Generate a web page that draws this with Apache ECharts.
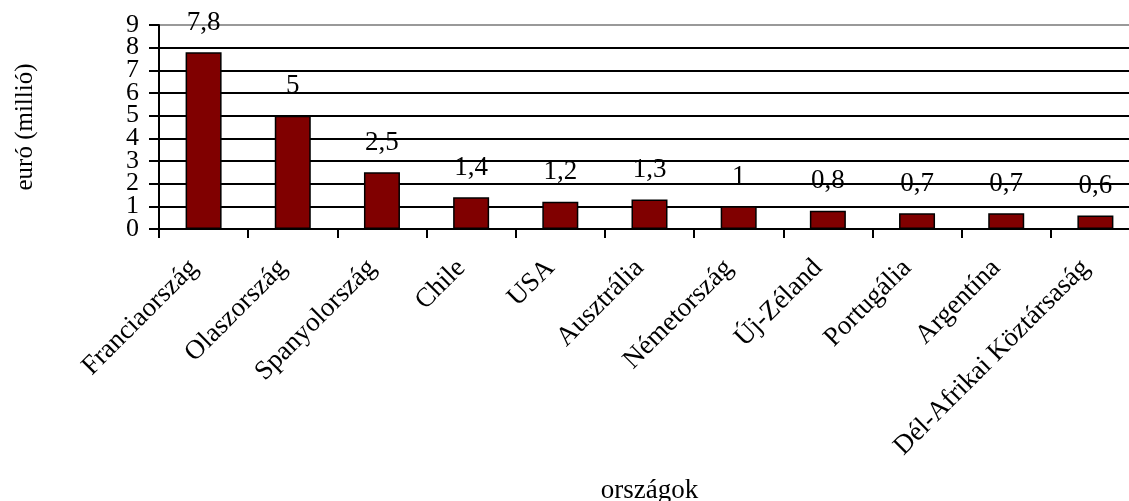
<!DOCTYPE html>
<html><head><meta charset="utf-8">
<script src="https://cdn.jsdelivr.net/npm/echarts@6/dist/echarts.min.js"></script>
<style>html,body{margin:0;padding:0;background:#fff}#c{width:1129px;height:501px}</style>
</head><body><div id="c"></div>
<script>
const categories = ['Franciaország','Olaszország','Spanyolország','Chile','USA','Ausztrália','Németország','Új-Zéland','Portugália','Argentína','Dél-Afrikai Köztársaság'];
const values = [7.8, 5, 2.5, 1.4, 1.2, 1.3, 1, 0.8, 0.7, 0.7, 0.6];
const labels = ['7,8','5','2,5','1,4','1,2','1,3','1','0,8','0,7','0,7','0,6'];
const yTicks = [0,1,2,3,4,5,6,7,8,9];
const FONT = "'Liberation Serif','Times New Roman',serif";
const yLabelStyle = {margin:20, fontFamily:FONT, fontSize:26, color:'#000', showMinLabel:true, showMaxLabel:true};
const chart = echarts.init(document.getElementById('c'), null, {renderer:'canvas'});
chart.setOption({
  animation:false,
  textStyle:{fontFamily:FONT},
  grid:{left:159, top:25, width:981, height:204, containLabel:false, outerBoundsMode:'none'},
  xAxis:{type:'category', data:categories,
    name:'országok', nameLocation:'middle', nameGap:248,
    nameTextStyle:{fontFamily:FONT, fontSize:27, color:'#000'},
    axisLine:{lineStyle:{color:'#000', width:2}},
    axisTick:{show:true, length:9, lineStyle:{color:'#000', width:2}},
    axisLabel:{rotate:45, interval:0, margin:25, padding:[0,14,0,0], fontFamily:FONT, fontSize:27, color:'#000'}
  },
  yAxis:[{type:'value', min:0, max:9, interval:1,
    name:'euró (millió)', nameLocation:'middle', nameGap:121, nameRotate:90,
    nameTextStyle:{fontFamily:FONT, fontSize:25, color:'#000'},
    axisLine:{show:true, lineStyle:{color:'#000', width:2}},
    axisTick:{show:true, length:10, lineStyle:{color:'#000', width:2}},
    axisLabel:Object.assign({}, yLabelStyle, {formatter:v=>(yTicks.includes(v)&&v%2===0)?String(v):''}),
    splitLine:{show:true, lineStyle:{color:['#000','#000','#000','#000','#000','#000','#000','#000','#000','#999'], width:2}}
  },{type:'value', min:0, max:9, interval:1, position:'left', offset:0,
    axisLine:{show:false}, axisTick:{show:false}, splitLine:{show:false},
    axisLabel:Object.assign({}, yLabelStyle, {formatter:v=>(yTicks.includes(v)&&v%2===1)?String(v):''})
  }],
  series:[{type:'bar', data:values, barWidth:36, yAxisIndex:0,
    itemStyle:{color:'#800000', borderColor:'#000', borderWidth:1.5},
    label:{show:true, position:'top', distance:16, fontFamily:FONT, fontSize:27, color:'#000',
      formatter:p=>labels[p.dataIndex]}
  }]
});
</script></body></html>
